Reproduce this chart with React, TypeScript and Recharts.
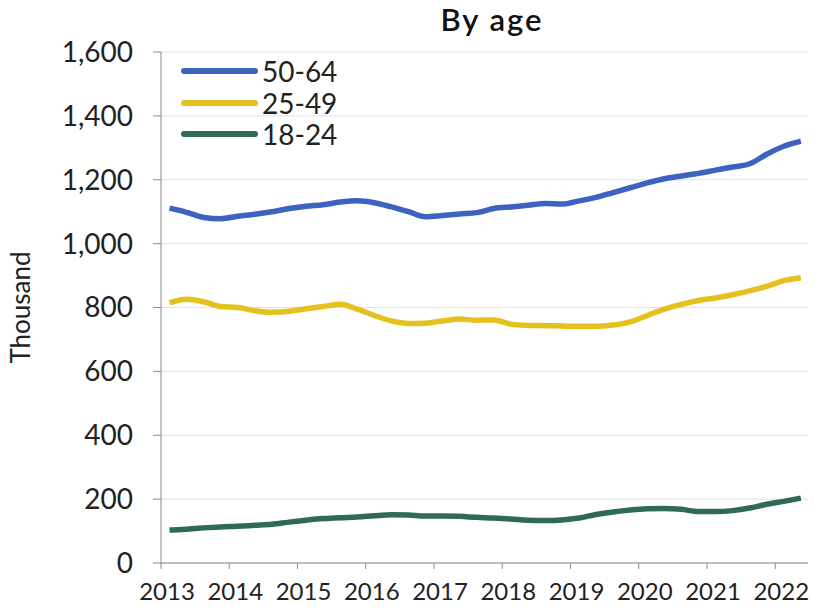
import { LineChart, Line, XAxis, YAxis, CartesianGrid } from "recharts";

// quarterly timeline, mid-quarter positions
const periods = [
  2013.125, 2013.375, 2013.625, 2013.875, 2014.125, 2014.375, 2014.625, 2014.875,
  2015.125, 2015.375, 2015.625, 2015.875, 2016.125, 2016.375, 2016.625, 2016.875,
  2017.125, 2017.375, 2017.625, 2017.875, 2018.125, 2018.375, 2018.625, 2018.875,
  2019.125, 2019.375, 2019.625, 2019.875, 2020.125, 2020.375, 2020.625, 2020.875,
  2021.125, 2021.375, 2021.625, 2021.875, 2022.125, 2022.375,
];

const age50to64 = [
  1111, 1098, 1082, 1078, 1086, 1092, 1100, 1110,
  1117, 1122, 1130, 1134, 1128, 1115, 1100, 1084,
  1088, 1093, 1097, 1110, 1115, 1120, 1126, 1124,
  1134, 1145, 1160, 1175, 1190, 1203, 1212, 1220,
  1230, 1240, 1250, 1280, 1305, 1321,
];

const age25to49 = [
  815, 826, 818, 803, 800, 790, 785, 788,
  796, 803, 810, 795, 775, 758, 750, 751,
  758, 764, 760, 761, 748, 744, 743, 742,
  741, 741, 745, 755, 775, 795, 810, 822,
  830, 840, 852, 866, 884, 893,
];

const age18to24 = [
  103, 106, 110, 113, 115, 118, 121, 128,
  134, 139, 142, 144, 148, 151, 150, 147,
  147, 146, 143, 141, 138, 134, 133, 135,
  141, 152, 160, 166, 170, 171, 168, 161,
  161, 164, 172, 184, 193, 203,
];

const yearTicks = [2013, 2014, 2015, 2016, 2017, 2018, 2019, 2020, 2021, 2022];
const valueTicks = [0, 200, 400, 600, 800, 1000, 1200, 1400, 1600];

const series = [
  { key: "a", name: "50-64", color: "#3d62c0" },
  { key: "b", name: "25-49", color: "#e5c11e" },
  { key: "c", name: "18-24", color: "#2f6a55" },
];

const data = periods.map((t, i) => ({
  t,
  a: age50to64[i],
  b: age25to49[i],
  c: age18to24[i],
}));

const FONT = "Lato, 'Open Sans', sans-serif";

function LegendBox() {
  return (
    <div style={{ position: "absolute", left: 180, top: 55, fontFamily: FONT, fontSize: 28, color: "#222" }}>
      {series.map((s) => (
        <div key={s.key} style={{ display: "flex", alignItems: "center", height: 31.7 }}>
          <svg width={80} height={10}>
            <line x1={4} y1={5} x2={75} y2={5} stroke={s.color} strokeWidth={6} strokeLinecap="round" />
          </svg>
          <span style={{ marginLeft: 2, lineHeight: "28px" }}>{s.name}</span>
        </div>
      ))}
    </div>
  );
}

export default function App() {
  return (
    <div style={{ position: "absolute", left: 0, top: 0, width: 814, height: 612, background: "#fff" }}>
      <LineChart width={814} height={612} data={data} margin={{ top: 52, right: 6, bottom: 0, left: 0 }}>
        <CartesianGrid vertical={false} stroke="#e3e3e3" />
        <XAxis
          dataKey="t"
          type="number"
          domain={[2013, 2022.48]}
          ticks={yearTicks}
          interval={0}
          height={49}
          stroke="#8a8a8a"
          tickSize={6}
          tickMargin={14}
          tick={{ fill: "#222", fontSize: 24, fontFamily: FONT, dx: 6 }}
        />
        <YAxis
          domain={[0, 1600]}
          ticks={valueTicks}
          interval={0}
          width={161}
          stroke="#8a8a8a"
          tickSize={8}
          tickMargin={20}
          tickFormatter={(v) => Number(v).toLocaleString("en-US")}
          tick={{ fill: "#222", fontSize: 28, fontFamily: FONT }}
          label={{
            value: "Thousand",
            angle: -90,
            position: "insideLeft",
            offset: 21,
            style: { textAnchor: "middle", fill: "#222", fontSize: 26, fontFamily: FONT },
          }}
        />
        {series.map((s) => (
          <Line
            key={s.key}
            dataKey={s.key}
            name={s.name}
            stroke={s.color}
            strokeWidth={5.5}
            type="monotone"
            dot={false}
            isAnimationActive={false}
          />
        ))}
      </LineChart>
      <div
        style={{
          position: "absolute",
          left: 392,
          top: 0,
          width: 200,
          textAlign: "center",
          fontFamily: FONT,
          fontSize: 31,
          fontWeight: 600,
          letterSpacing: 2,
          color: "#111",
        }}
      >
        By age
      </div>
      <LegendBox />
    </div>
  );
}
